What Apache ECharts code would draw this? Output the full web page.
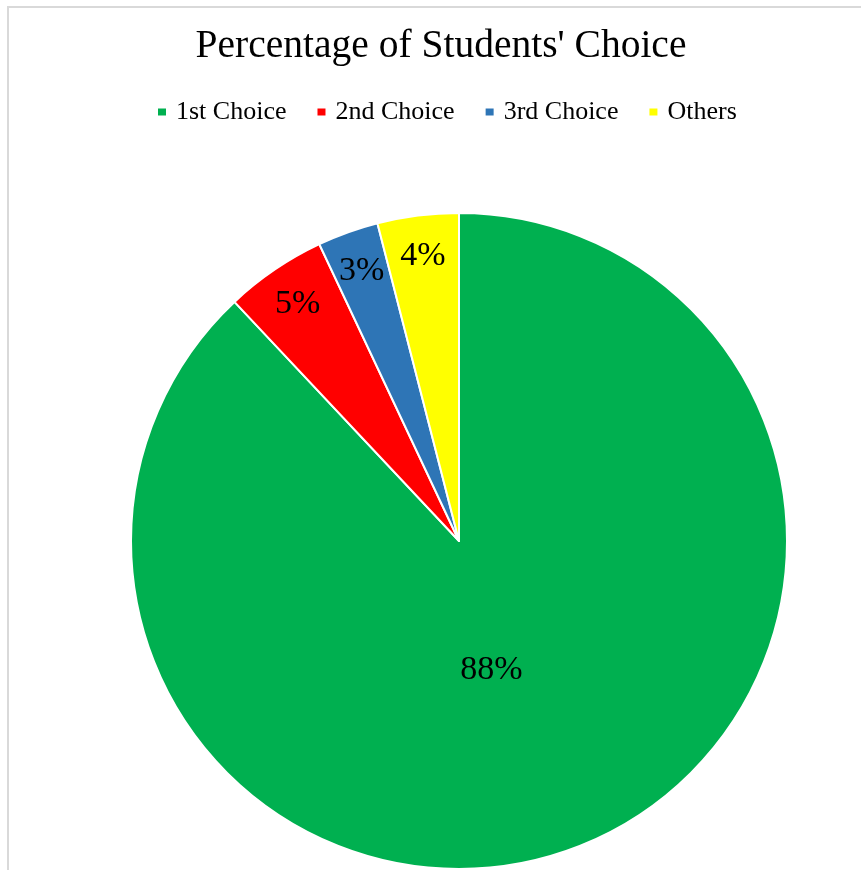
<!DOCTYPE html>
<html>
<head>
<meta charset="utf-8">
<script src="https://cdn.jsdelivr.net/npm/echarts@6/dist/echarts.min.js"></script>
<style>
  html, body { margin: 0; padding: 0; background: #fff; }
  #chart { width: 861px; height: 870px; }
</style>
</head>
<body>
<div id="chart"></div>
<script>
const categories = ['1st Choice', '2nd Choice', '3rd Choice', 'Others'];
const percents = [88, 5, 3, 4];
const colors = ['#00B050', '#FF0000', '#2E75B6', '#FFFF00'];

const font = 'Liberation Serif, Times New Roman, serif';
const center = [459, 541];
const R = 328;

const slices = categories.map((name, i) => ({
  name,
  value: percents[i],
  itemStyle: { color: colors[i] }
}));

// labels for the small slices sit near the rim, the big one nearer the middle
const rimLabels = categories.map((name, i) => ({
  name, value: percents[i],
  label: { show: percents[i] < 50 }
}));
const midLabels = categories.map((name, i) => ({
  name, value: percents[i],
  label: { show: percents[i] >= 50, offset: [-17, 4] }
}));

const labelStyle = {
  position: 'inside',
  formatter: '{c}%',
  color: '#000',
  fontFamily: font,
  fontSize: 34
};

const chart = echarts.init(document.getElementById('chart'));
chart.setOption({
  animation: false,
  title: {
    text: "Percentage of Students' Choice",
    left: 436,
    textAlign: 'center',
    top: 22,
    textStyle: { fontFamily: font, fontWeight: 'normal', fontSize: 39.5, color: '#000' }
  },
  legend: {
    data: categories,
    left: 156,
    top: 99,
    padding: 0,
    icon: 'rect',
    itemWidth: 10,
    itemHeight: 9,
    itemGap: 29,
    textStyle: { fontFamily: font, fontSize: 26, color: '#000', padding: [0, 0, 0, 4] }
  },
  graphic: [{
    type: 'rect',
    shape: { x: 8, y: 7, width: 1000, height: 1000 },
    style: { fill: 'none', stroke: '#d9d9d9', lineWidth: 2 },
    silent: true
  }],
  series: [
    {
      type: 'pie',
      center, radius: R,
      startAngle: 90, clockwise: true,
      itemStyle: { borderColor: '#fff', borderWidth: 2 },
      label: { show: false }, labelLine: { show: false },
      emphasis: { disabled: true },
      data: slices
    },
    {
      type: 'pie',
      center, radius: [240, R],
      startAngle: 90, clockwise: true, silent: true,
      itemStyle: { color: 'transparent' },
      label: labelStyle, labelLine: { show: false },
      data: rimLabels
    },
    {
      type: 'pie',
      center, radius: [0, 262],
      startAngle: 90, clockwise: true, silent: true,
      itemStyle: { color: 'transparent' },
      label: labelStyle, labelLine: { show: false },
      data: midLabels
    }
  ]
});
</script>
</body>
</html>
